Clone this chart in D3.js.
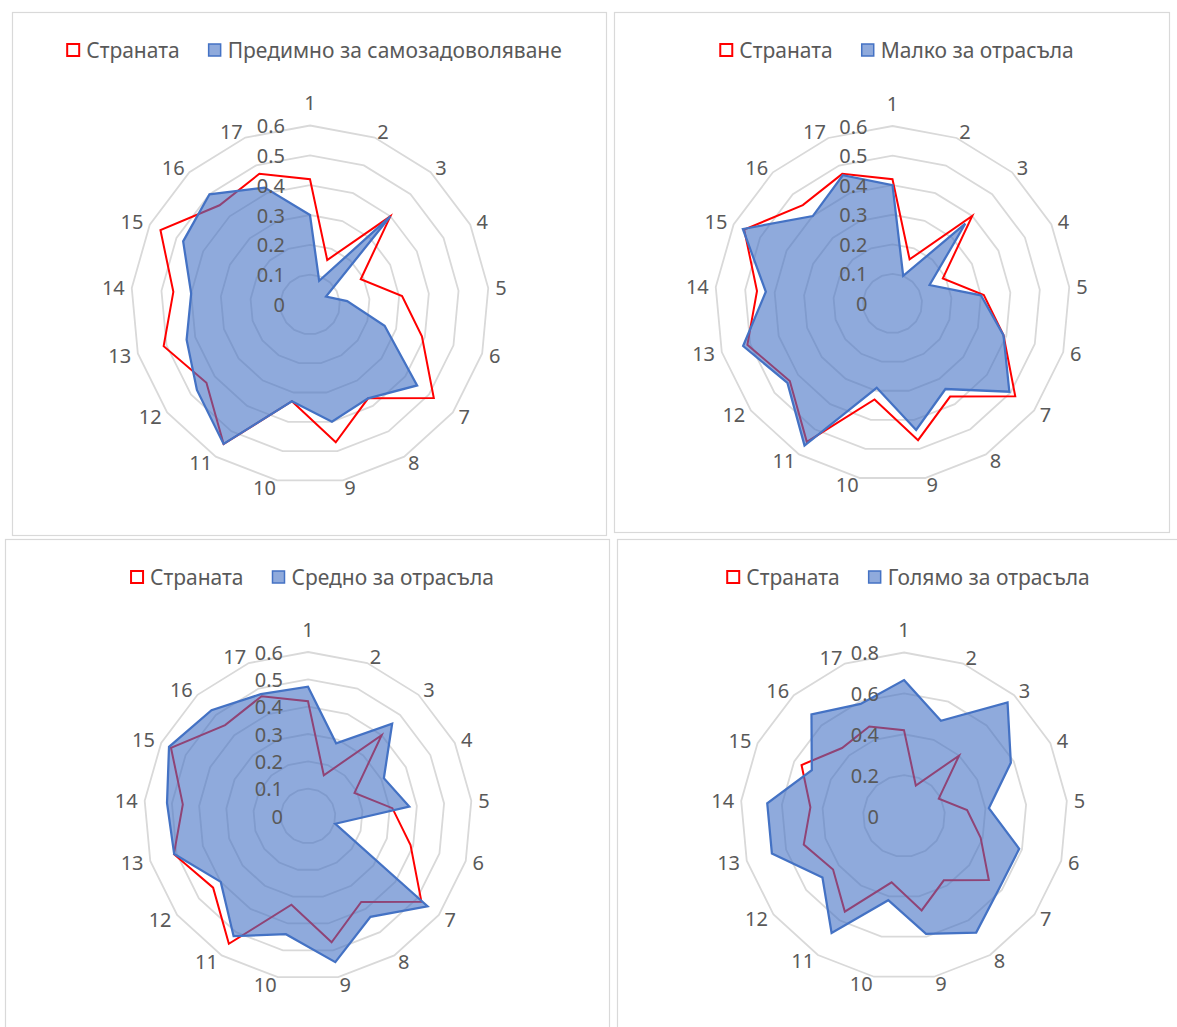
<!DOCTYPE html>
<html>
<head>
<meta charset="utf-8">
<script src="https://cdn.jsdelivr.net/npm/d3@7"></script>
<style>
  body { margin: 0; background: #fff; }
  text { font-family: "Noto Sans", "Open Sans", sans-serif; font-size: 20px; fill: #595959; }
  .legend text { font-size: 21px; }
</style>
</head>
<body>
<div id="chart"></div>
<script>
// Radar charts: country profile vs. four company groups (17 indicators)

const categories = ["1", "2", "3", "4", "5", "6", "7", "8", "9", "10", "11", "12", "13", "14", "15", "16", "17"];

const countryName = "Страната";
const countryValues = [0.42, 0.16, 0.40, 0.19, 0.31, 0.39, 0.52, 0.37, 0.47, 0.33, 0.55, 0.435, 0.51, 0.46, 0.56, 0.45, 0.47];

const groupNames = ["Предимно за самозадоволяване", "Малко за отрасъла", "Средно за отрасъла", "Голямо за отрасъла"];
const selfSupplyValues = [0.30, 0.085, 0.40, 0.06, 0.125, 0.26, 0.45, 0.37, 0.40, 0.33, 0.55, 0.475, 0.43, 0.40, 0.475, 0.50, 0.42];
const smallValues = [0.40, 0.10, 0.365, 0.14, 0.30, 0.39, 0.495, 0.34, 0.435, 0.29, 0.565, 0.445, 0.525, 0.43, 0.565, 0.40, 0.465];
const mediumValues = [0.473, 0.285, 0.457, 0.31, 0.372, 0.104, 0.548, 0.434, 0.544, 0.44, 0.517, 0.40, 0.509, 0.518, 0.568, 0.524, 0.478];
const largeValues = [0.665, 0.50, 0.752, 0.584, 0.417, 0.586, 0.585, 0.671, 0.587, 0.419, 0.673, 0.50, 0.672, 0.672, 0.504, 0.672, 0.588];

const axisMax = [0.6, 0.6, 0.6, 0.8];
const axisStep = [0.1, 0.1, 0.1, 0.2];

// panel frames and plot geometry
const panels = [
    { box: [12.5, 12.5, 594, 523], cx: 310, cy: 304.5, r: 179 },
    { box: [614.5, 12.5, 555, 520], cx: 892.5, cy: 303.5, r: 177.5 },
    { box: [5.5, 539.5, 604, 520], cx: 308, cy: 816, r: 164 },
    { box: [617.5, 539.5, 600, 520], cx: 904, cy: 816, r: 163.5 }
];
const groupValues = [selfSupplyValues, smallValues, mediumValues, largeValues];

const BLUE = "#4472C4";
const RED = "#FF0000";
const GRID = "#D9D9D9";

const width = 1177, height = 1027;

const svg = d3.select("#chart").append("svg")
    .attr("width", width)
    .attr("height", height);

function drawRadar(i) {
    const p = panels[i];
    const max = axisMax[i];
    const step = axisStep[i];

    svg.append("rect")
        .attr("x", p.box[0]).attr("y", p.box[1])
        .attr("width", p.box[2]).attr("height", p.box[3])
        .attr("fill", "none")
        .attr("stroke", GRID)
        .attr("stroke-width", 1.2);

    const g = svg.append("g").attr("transform", `translate(${p.cx}, ${p.cy})`);

    const angle = d3.scaleLinear().domain([0, categories.length]).range([0, 2 * Math.PI]);
    const radius = d3.scaleLinear().domain([0, max]).range([0, p.r]);

    const line = d3.lineRadial()
        .angle((d, j) => angle(j))
        .radius(d => radius(d))
        .curve(d3.curveLinearClosed);

    const ticks = d3.range(0, Math.round(max / step) + 1).map(k => +(k * step).toFixed(2));

    // grid rings
    g.selectAll(".ring")
        .data(ticks.filter(t => t > 0))
        .enter()
        .append("path")
        .attr("d", t => line(categories.map(() => t)))
        .attr("fill", "none")
        .attr("stroke", GRID)
        .attr("stroke-width", 1.8);

    // category labels
    g.selectAll(".cat")
        .data(categories)
        .enter()
        .append("text")
        .each(function (d, j) {
            const a = angle(j);
            const s = Math.sin(a), c = Math.cos(a);
            const vx = radius(max) * s, vy = -radius(max) * c;
            const t = d3.select(this).text(d).attr("dominant-baseline", "central");
            if (Math.abs(s) < 0.01) {
                t.attr("x", vx).attr("y", vy - 23).attr("text-anchor", "middle");
            } else {
                t.attr("x", vx + 7 * s).attr("y", vy - 7 * c)
                    .attr("text-anchor", s > 0 ? "start" : "end");
            }
        });

    // country first, group fill drawn over it
    g.append("path")
        .attr("d", line(countryValues))
        .attr("fill", "none")
        .attr("stroke", RED)
        .attr("stroke-width", 2)
        .attr("stroke-linejoin", "miter");

    g.append("path")
        .attr("d", line(groupValues[i]))
        .attr("fill", BLUE)
        .attr("fill-opacity", 0.6)
        .attr("stroke", BLUE)
        .attr("stroke-width", 2.25)
        .attr("stroke-linejoin", "miter");

    // value axis labels
    g.selectAll(".tick")
        .data(ticks)
        .enter()
        .append("text")
        .attr("x", -25)
        .attr("y", t => -radius(t))
        .attr("text-anchor", "end")
        .attr("dominant-baseline", "central")
        .text(t => d3.format("")(t));

    // legend
    const legend = svg.append("g").attr("class", "legend");
    const items = [
        { name: countryName, fill: "#fff", stroke: RED },
        { name: groupNames[i], fill: "rgba(68,114,196,0.6)", stroke: BLUE }
    ];
    let x = 0;
    items.forEach((it, j) => {
        legend.append("rect")
            .attr("x", x + 1).attr("y", -6)
            .attr("width", 12).attr("height", 12)
            .attr("fill", it.fill)
            .attr("stroke", it.stroke)
            .attr("stroke-width", j === 0 ? 2 : 1.5);
        const label = legend.append("text")
            .attr("x", x + 20)
            .attr("dominant-baseline", "central")
            .text(it.name);
        x += 20 + label.node().getComputedTextLength() + 28;
    });
    const total = x - 28;
    legend.attr("transform", `translate(${p.cx + 4 - total / 2}, ${p.box[1] + 37.5})`);
}

panels.forEach((p, i) => drawRadar(i));
</script>
</body>
</html>
